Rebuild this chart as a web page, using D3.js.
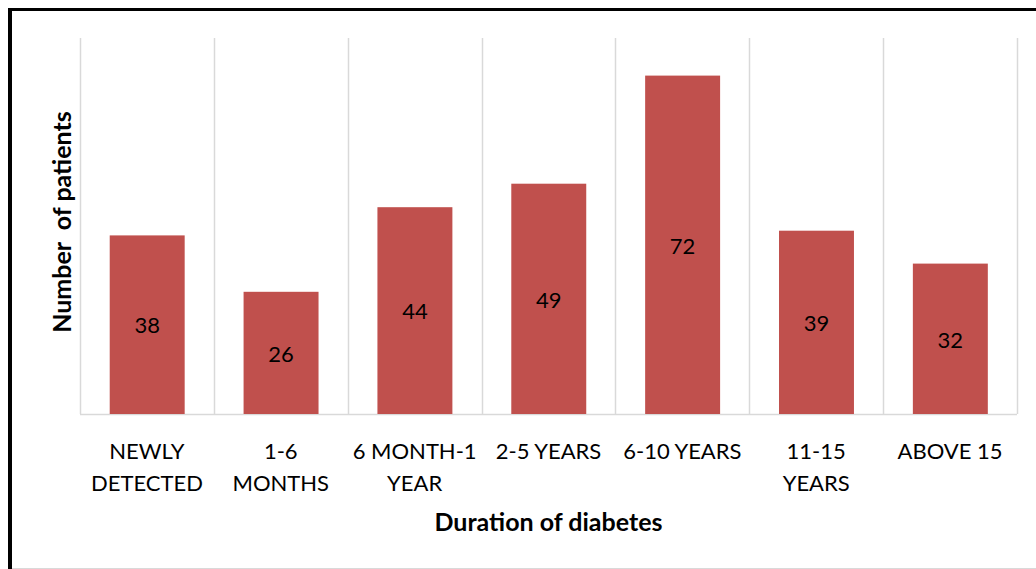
<!DOCTYPE html>
<html><head><meta charset="utf-8">
<script src="https://cdn.jsdelivr.net/npm/d3@7"></script>
<style>html,body{margin:0;padding:0;background:#fff;}svg{display:block;}</style>
</head><body>
<svg id="c" width="1036" height="569"></svg>
<script>
const categories = ["NEWLY DETECTED","1-6 MONTHS","6 MONTH-1 YEAR","2-5 YEARS","6-10 YEARS","11-15 YEARS","ABOVE 15"];
const categoryLines = [["NEWLY","DETECTED"],["1-6","MONTHS"],["6 MONTH-1","YEAR"],["2-5 YEARS"],["6-10 YEARS"],["11-15","YEARS"],["ABOVE 15"]];
const values = [38,26,44,49,72,39,32];
const xTitle = "Duration of diabetes";
const yTitle = "Number\u00a0 of patients";

const font = "Lato, 'Open Sans', sans-serif";
const fs = 22;
const fsTitle = 25;
const svg = d3.select("#c");
const plotLeft = 80, plotRight = 1017, plotTop = 38, plotBase = 414;

const x = d3.scaleBand().domain(categories).range([plotLeft, plotRight]).padding(0);
const y = d3.scaleLinear().domain([0, 80]).range([plotBase, plotTop]);

// frame
svg.append("line").attr("x1",8).attr("x2",1036).attr("y1",9.5).attr("y2",9.5).attr("stroke","#000").attr("stroke-width",3);
svg.append("line").attr("x1",10).attr("x2",10).attr("y1",8).attr("y2",569).attr("stroke","#000").attr("stroke-width",4);
svg.append("line").attr("x1",12).attr("x2",1036).attr("y1",568.5).attr("y2",568.5).attr("stroke","#d9d9d9").attr("stroke-width",1);

// vertical category gridlines
const bounds = categories.map(c => x(c)).concat([x(categories[categories.length-1]) + x.bandwidth()]);
svg.append("g").selectAll("line").data(bounds).join("line")
  .attr("x1", d => Math.round(d)+0.5).attr("x2", d => Math.round(d)+0.5)
  .attr("y1", y(80)).attr("y2", plotBase)
  .attr("stroke", "#d9d9d9").attr("stroke-width", 1.5);

// baseline axis
svg.append("line").attr("x1", plotLeft).attr("x2", plotRight).attr("y1", plotBase+0.5).attr("y2", plotBase+0.5)
  .attr("stroke", "#d9d9d9").attr("stroke-width", 1.5);

// bars
const step = x.step();
svg.append("g").selectAll("rect").data(values).join("rect")
  .attr("x", (d,i) => x(categories[i]) + step*0.222)
  .attr("width", step*0.56)
  .attr("y", d => y(d))
  .attr("height", d => plotBase - y(d))
  .attr("fill", "#C0504D");

// value labels
svg.append("g").selectAll("text").data(values).join("text")
  .attr("x", (d,i) => x(categories[i]) + step*0.222 + step*0.28)
  .attr("y", d => (y(d) + plotBase)/2 + 1)
  .attr("dy", "0.35em")
  .attr("text-anchor", "middle")
  .attr("font-family", font).attr("font-size", fs).attr("fill", "#000")
  .text(d => d);

// category labels
const cl = svg.append("g");
categoryLines.forEach((lines, i) => {
  const t = cl.append("text").attr("text-anchor","middle")
    .attr("font-family", font).attr("font-size", fs).attr("fill","#000");
  lines.forEach((ln, j) => {
    t.append("tspan").attr("x", x(categories[i]) + step/2).attr("y", 459 + j*32).text(ln);
  });
});

// axis titles
svg.append("text").attr("x", (plotLeft+plotRight)/2).attr("y", 531)
  .attr("text-anchor","middle").attr("font-family", font).attr("font-weight","bold")
  .attr("font-size", fsTitle).attr("fill","#000").text(xTitle);

svg.append("text").attr("transform", "translate(71,222) rotate(-90)")
  .attr("text-anchor","middle").attr("font-family", font).attr("font-weight","bold")
  .attr("font-size", fsTitle).attr("fill","#000").text(yTitle);
</script>
</body></html>
